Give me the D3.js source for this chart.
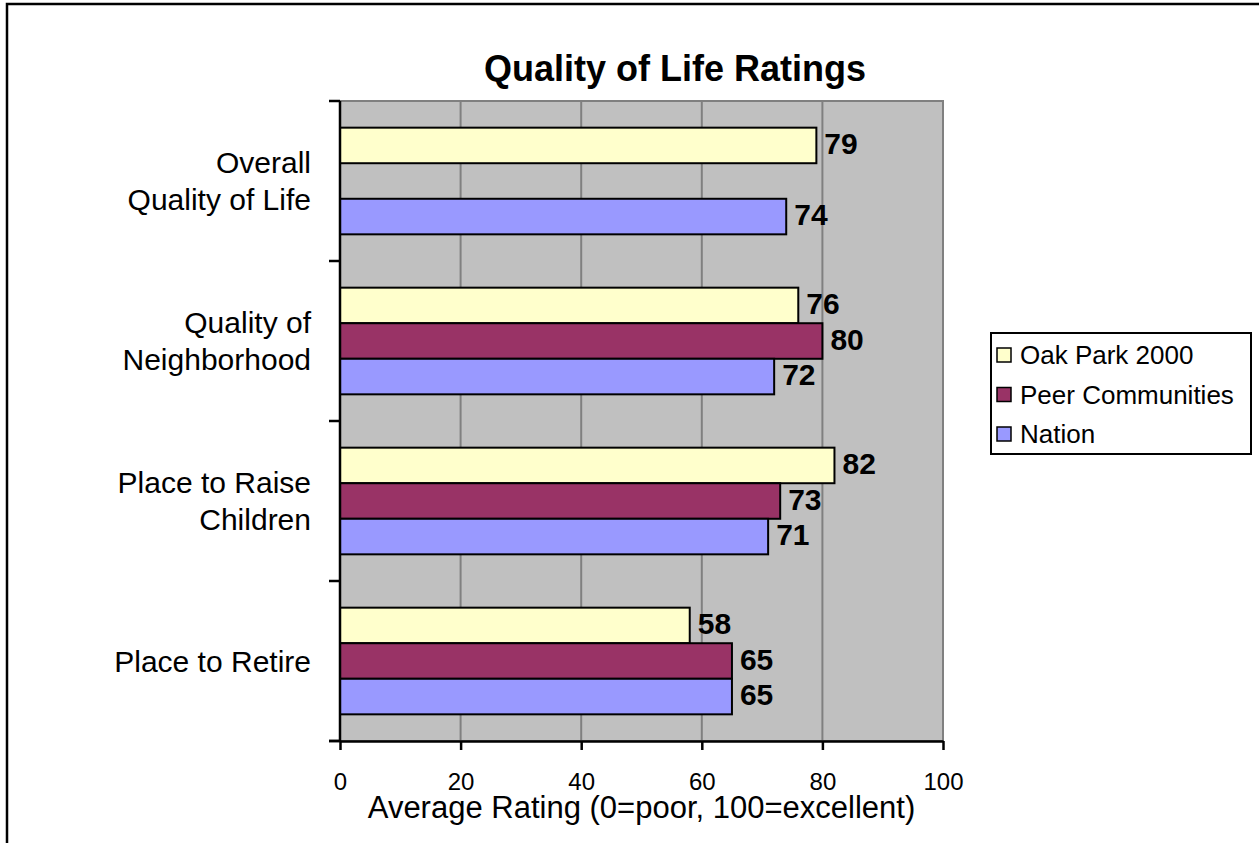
<!DOCTYPE html>
<html>
<head>
<meta charset="utf-8">
<script src="https://cdn.jsdelivr.net/npm/d3@7"></script>
<style>
  body { margin: 0; background: #fff; }
  text { font-family: "Liberation Sans", Arial, sans-serif; }
</style>
</head>
<body>
<svg id="chart" width="1259" height="843"></svg>
<script>
// data
const categories = ["Overall Quality of Life", "Quality of Neighborhood", "Place to Raise Children", "Place to Retire"];
const categoryLines = [["Overall", "Quality of Life"], ["Quality of", "Neighborhood"], ["Place to Raise", "Children"], ["Place to Retire"]];
const seriesNames = ["Oak Park 2000", "Peer Communities", "Nation"];
const oakPark = [79, 76, 82, 58];
const peer = [null, 80, 73, 65];
const nation = [74, 72, 71, 65];
const xTicks = [0, 20, 40, 60, 80, 100];
const colors = ["#FFFFCC", "#993366", "#9999FF"];

const seriesValues = [oakPark, peer, nation];

const svg = d3.select("#chart");
const plot = {left: 340, right: 943, top: 101, bottom: 741};

// outer frame (runs off the page on right / bottom like the original)
svg.append("rect")
  .attr("x", 7).attr("y", 4)
  .attr("width", 1300).attr("height", 900)
  .attr("fill", "none").attr("stroke", "#000").attr("stroke-width", 2.5);

svg.append("text")
  .attr("x", 675).attr("y", 81)
  .attr("text-anchor", "middle")
  .attr("font-size", "36px").attr("font-weight", "bold")
  .text("Quality of Life Ratings");

var x = d3.scaleLinear().domain([0, 100]).range([plot.left, plot.right]);
var y0 = d3.scaleBand().domain(categories).range([plot.top, plot.bottom]);
var y1 = d3.scaleBand().domain(seriesNames).range([0, y0.bandwidth()]).paddingOuter(0.75);

// plot background
svg.append("rect")
  .attr("x", plot.left).attr("y", plot.top)
  .attr("width", plot.right - plot.left).attr("height", plot.bottom - plot.top)
  .attr("fill", "#C0C0C0").attr("stroke", "#808080").attr("stroke-width", 2);

// gridlines
svg.append("g").selectAll("line")
  .data(xTicks.slice(1, -1))
  .enter().append("line")
  .attr("x1", d => x(d)).attr("x2", d => x(d))
  .attr("y1", plot.top).attr("y2", plot.bottom)
  .attr("stroke", "#808080").attr("stroke-width", 2);

// bars
var rows = [];
categories.forEach(function(c, i) {
  seriesNames.forEach(function(s, j) {
    if (seriesValues[j][i] != null) rows.push({cat: c, series: s, idx: j, value: seriesValues[j][i]});
  });
});

svg.append("g").selectAll("rect")
  .data(rows)
  .enter().append("rect")
  .attr("x", x(0))
  .attr("y", d => y0(d.cat) + y1(d.series))
  .attr("width", d => x(d.value) - x(0))
  .attr("height", y1.bandwidth())
  .attr("fill", d => colors[d.idx])
  .attr("stroke", "#000").attr("stroke-width", 2);

svg.append("g").selectAll("text")
  .data(rows)
  .enter().append("text")
  .attr("x", d => x(d.value) + 8)
  .attr("y", d => y0(d.cat) + y1(d.series) + y1.bandwidth() / 2 - 2)
  .attr("dy", "0.36em")
  .attr("font-size", "30px").attr("font-weight", "bold")
  .text(d => d.value);

// y axis
svg.append("line")
  .attr("x1", plot.left).attr("x2", plot.left)
  .attr("y1", plot.top).attr("y2", plot.bottom)
  .attr("stroke", "#000").attr("stroke-width", 2.5);
var bounds = categories.map(c => y0(c)).concat([plot.bottom]);
svg.append("g").selectAll("line")
  .data(bounds)
  .enter().append("line")
  .attr("x1", plot.left - 11).attr("x2", plot.left)
  .attr("y1", d => d).attr("y2", d => d)
  .attr("stroke", "#000").attr("stroke-width", 2.5);

var catLabels = svg.append("g").selectAll("text")
  .data(categories)
  .enter().append("text")
  .attr("text-anchor", "end")
  .attr("font-size", "30px");
catLabels.each(function(c, i) {
  var lines = categoryLines[i];
  var cy = y0(c) + y0.bandwidth() / 2;
  d3.select(this).selectAll("tspan")
    .data(lines)
    .enter().append("tspan")
    .attr("x", 311)
    .attr("y", (d, k) => cy + (k - (lines.length - 1) / 2) * 37)
    .attr("dy", "0.36em")
    .text(d => d);
});

// x axis
var xAxis = svg.append("g")
  .attr("transform", "translate(0," + plot.bottom + ")")
  .call(d3.axisBottom(x).tickValues(xTicks).tickSize(9).tickSizeOuter(0));
xAxis.select(".domain").attr("stroke", "#000").attr("stroke-width", 2.5);
xAxis.selectAll(".tick line").attr("stroke", "#000").attr("stroke-width", 2.5);
xAxis.selectAll(".tick text")
  .attr("y", 49).attr("dy", null)
  .attr("font-size", "24px").attr("fill", "#000")
  .style("font-family", "'Liberation Sans', Arial, sans-serif");
xAxis.append("line").attr("x1", plot.left - 11).attr("x2", plot.left)
  .attr("stroke", "#000").attr("stroke-width", 2.5);

svg.append("text")
  .attr("x", (plot.left + plot.right) / 2).attr("y", 818)
  .attr("text-anchor", "middle")
  .attr("font-size", "31px")
  .text("Average Rating (0=poor, 100=excellent)");

// legend
var legend = svg.append("g");
legend.append("rect")
  .attr("x", 991).attr("y", 333)
  .attr("width", 260).attr("height", 121)
  .attr("fill", "#fff").attr("stroke", "#000").attr("stroke-width", 2);
var legendY = d3.scalePoint().domain(seriesNames).range([355, 434]);
var items = legend.selectAll("g.item")
  .data(seriesNames)
  .enter().append("g").attr("class", "item")
  .attr("transform", d => "translate(997," + legendY(d) + ")");
items.append("rect")
  .attr("x", 0).attr("y", -7).attr("width", 14).attr("height", 14)
  .attr("fill", (d, i) => colors[i]).attr("stroke", "#000").attr("stroke-width", 1.5);
items.append("text")
  .attr("x", 23).attr("dy", "0.36em")
  .attr("font-size", "26px")
  .text(d => d);
</script>
</body>
</html>
